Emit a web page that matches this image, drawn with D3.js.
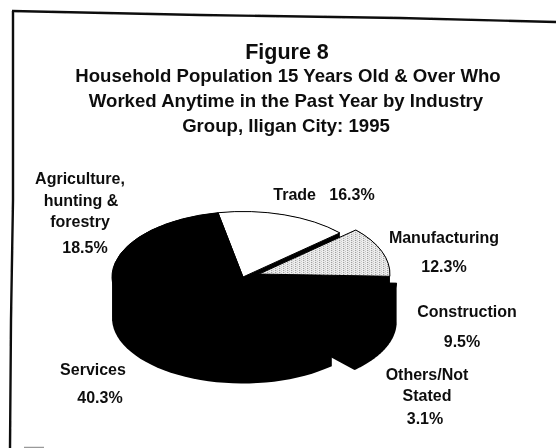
<!DOCTYPE html>
<html><head><meta charset="utf-8">
<script src="https://cdn.jsdelivr.net/npm/d3@7"></script>
<style>html,body{margin:0;padding:0;background:#fff}svg{display:block}
text{font-family:"Liberation Sans",Arial,sans-serif;font-weight:bold;fill:#111;text-anchor:middle}</style>
</head><body><svg id="c" width="556" height="448"></svg>
<script>
const categories = ["Trade","Manufacturing","Construction","Others/Not Stated","Services","Agriculture, hunting & forestry"];
const values = [16.3,12.3,9.5,3.1,40.3,18.5];
const titleLines = ["Household Population 15 Years Old & Over Who","Worked Anytime in the Past Year by Industry","Group, Iligan City: 1995"];
const figureLabel = "Figure 8";

const W=556,H=448,cx=243,cy=277,R=131,squash=0.5,depth=41;
const explode=[0,17,24,24,0,0];
const explodeGroup=[0,1,2,2,4,5];
const fills=["#fff","url(#dots)","#000","#000","#000","#000"];
const svg=d3.select("#c");
const defs=svg.append("defs");
const p=defs.append("pattern").attr("id","dots").attr("width",4).attr("height",4).attr("patternUnits","userSpaceOnUse");
p.append("rect").attr("width",4).attr("height",4).attr("fill","#f0f0f0");
p.append("rect").attr("x",0).attr("y",0).attr("width",1.3).attr("height",1.3).attr("fill","#666");
p.append("rect").attr("x",2).attr("y",2).attr("width",1).attr("height",1).attr("fill","#999");
defs.append("filter").attr("id","soft").append("feGaussianBlur").attr("stdDeviation",0.45);

const root=svg.append("g").attr("filter","url(#soft)");
root.append("path").attr("d",d3.line()([[12,11],[200,15],[400,18],[556,22]])).attr("fill","none").attr("stroke","#111").attr("stroke-width",2.4);
root.append("path").attr("d",d3.line()([[13,11],[13,200],[11,320],[10,448]])).attr("fill","none").attr("stroke","#111").attr("stroke-width",2.4);
root.append("path").attr("d",d3.line()([[24,447.5],[44,447.5]])).attr("stroke","#999").attr("stroke-width",1.5);

const start=-11*Math.PI/180;
const pie=d3.pie().sort(null).startAngle(start).endAngle(start+2*Math.PI);
const arcs=pie(values);
const rScale=d3.scaleLinear().domain([0,1]).range([0,R]);
const arcGen=d3.arc().innerRadius(0).outerRadius(rScale(1));
const offset=(d,i)=>{const g=arcs[explodeGroup[i]];const m=(g.startAngle+g.endAngle)/2;return [Math.sin(m)*explode[i],-Math.cos(m)*explode[i]*squash];};
const project=(a,r,o,z)=>[cx+o[0]+Math.sin(a)*r,cy+o[1]-Math.cos(a)*r*squash+z];

// walls: each slice extruded downward
arcs.forEach((d,i)=>{
  const o=offset(d,i);
  const pts=[];
  [0,depth].forEach(z=>{
    pts.push(project(0,0,o,z));
    d3.range(0,41).forEach(k=>pts.push(project(d.startAngle+(d.endAngle-d.startAngle)*k/40,rScale(1),o,z)));
  });
  const hull=d3.polygonHull(pts);
  root.append("path").attr("d","M"+hull.join("L")+"Z").attr("fill","#000");
});
// top faces
arcs.forEach((d,i)=>{
  const o=offset(d,i);
  root.append("g").attr("transform",`translate(${cx+o[0]},${cy+o[1]}) scale(1,${squash})`)
    .append("path").attr("d",arcGen(d)).attr("fill",fills[i])
    .attr("stroke","#000").attr("stroke-width",1).attr("vector-effect","non-scaling-stroke");
});

const txt=(s,x,y,fs)=>root.append("text").attr("x",x).attr("y",y).attr("dy","0.35em").attr("font-size",fs).text(s);
txt(figureLabel,287,51,21.5);
[[288,75],[286,100],[286,125]].forEach((q,i)=>txt(titleLines[i],q[0],q[1],18.6));
const fmt=v=>v.toFixed(1)+"%";
const fs=16;
txt(categories[0]+"\u00a0\u00a0\u00a0"+fmt(values[0]),324,194,fs);
txt(categories[1],444,237,fs);
txt(fmt(values[1]),444,266,fs);
txt(categories[2],467,311,fs);
txt(fmt(values[2]),462,341,fs);
txt("Others/Not",427,374,fs);
txt("Stated",427,395,fs);
txt(fmt(values[3]),425,418,fs);
txt(categories[4],93,369,fs);
txt(fmt(values[4]),100,397,fs);
txt("Agriculture,",80,178,fs);
txt("hunting &",81,200,fs);
txt("forestry",80,221,fs);
txt(fmt(values[5]),85,247,fs);
</script></body></html>
